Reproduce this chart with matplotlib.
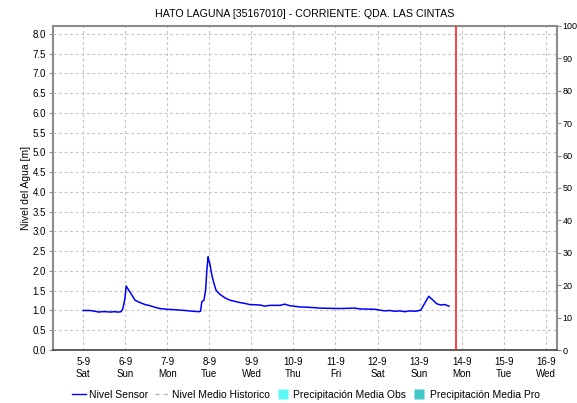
import matplotlib
matplotlib.use("Agg")
import matplotlib.pyplot as plt
from matplotlib.lines import Line2D

plt.rcParams['font.family'] = ['Liberation Sans', 'DejaVu Sans']

# Sensor readings: time in days since 5-9 00:00, level in metres
sensor_days = [0.00, 0.16, 0.28, 0.37, 0.44, 0.54, 0.64, 0.73, 0.83, 0.90,
               0.94, 0.99, 1.02, 1.06, 1.11, 1.18, 1.23, 1.35, 1.47, 1.59,
               1.71, 1.82, 2.01, 2.18, 2.42, 2.61, 2.75, 2.79, 2.82, 2.87,
               2.91, 2.94, 2.97, 2.99, 3.01, 3.06, 3.11, 3.16, 3.25, 3.37,
               3.49, 3.61, 3.73, 3.84, 3.96, 4.20, 4.32, 4.44, 4.68, 4.79,
               4.92, 5.15, 5.39, 5.63, 6.10, 6.46, 6.58, 6.94, 7.17, 7.29,
               7.41, 7.53, 7.65, 7.77, 7.91, 8.03, 8.10, 8.22, 8.34, 8.41,
               8.50, 8.60, 8.70]
sensor_level = [1.00, 1.00, 0.98, 0.96, 0.97, 0.97, 0.96, 0.97, 0.96, 0.97,
                1.04, 1.30, 1.62, 1.55, 1.47, 1.35, 1.26, 1.20, 1.15, 1.12,
                1.08, 1.05, 1.03, 1.02, 1.00, 0.98, 0.97, 0.98, 1.22, 1.26,
                1.51, 2.02, 2.36, 2.25, 2.19, 1.89, 1.68, 1.51, 1.41, 1.32,
                1.26, 1.23, 1.20, 1.18, 1.15, 1.14, 1.11, 1.13, 1.13, 1.16,
                1.12, 1.09, 1.08, 1.06, 1.05, 1.06, 1.04, 1.03, 0.99, 1.00,
                0.98, 0.99, 0.97, 0.99, 0.98, 1.01, 1.14, 1.36, 1.24, 1.17,
                1.14, 1.15, 1.11]

# Current time marker (days since 5-9 00:00)
now_day = 8.87

day_labels = ["5-9\nSat", "6-9\nSun", "7-9\nMon", "8-9\nTue", "9-9\nWed",
              "10-9\nThu", "11-9\nFri", "12-9\nSat", "13-9\nSun", "14-9\nMon",
              "15-9\nTue", "16-9\nWed"]
level_ticks = [0.0, 0.5, 1.0, 1.5, 2.0, 2.5, 3.0, 3.5, 4.0, 4.5, 5.0, 5.5,
               6.0, 6.5, 7.0, 7.5, 8.0]
precip_ticks = [0, 10, 20, 30, 40, 50, 60, 70, 80, 90, 100]

title = "HATO LAGUNA [35167010] - CORRIENTE: QDA. LAS CINTAS"

fig = plt.figure(figsize=(5.77, 4.03), dpi=100)
ax = fig.add_axes([0.0919, 0.1315, 0.8734, 0.804])

spine_col = "#8c8c8c"
grid_col = "#c4c4c4"

ax.plot(sensor_days, sensor_level, color="#0000ff", lw=1.1, zorder=3)
ax.axvline(now_day, color="#ff2020", lw=1.2, zorder=4)

ax.set_xlim(-0.72, 11.27)
ax.set_ylim(0, 8.2)
ax.set_xticks(range(len(day_labels)))
ax.set_xticklabels(day_labels, fontsize=7, linespacing=1.25)
ax.set_yticks(level_ticks)
ax.set_yticklabels([f"{v:.1f}" for v in level_ticks], fontsize=7)
ax.tick_params(axis="x", length=0, pad=5)
ax.tick_params(axis="y", length=3, color=spine_col, pad=2)
ax.grid(True, color=grid_col, ls=(0, (2.5, 2.5)), lw=0.8)
ax.set_axisbelow(True)
ax.set_ylabel("Nivel del Agua [m]", fontsize=7.5, labelpad=1)

for side in ("left", "top", "right"):
    ax.spines[side].set_color(spine_col)
    ax.spines[side].set_linewidth(1.5)
ax.spines["bottom"].set_color("#404040")
ax.spines["bottom"].set_linestyle((0, (1, 1)))
ax.spines["bottom"].set_linewidth(1.2)

ax2 = ax.twinx()
ax2.set_ylim(0, 100)
ax2.set_yticks(precip_ticks)
ax2.set_yticklabels([str(v) for v in precip_ticks], fontsize=6.5)
ax2.tick_params(axis="y", length=3, color=spine_col, pad=1)
for side in ("left", "top", "right", "bottom"):
    ax2.spines[side].set_visible(False)

fig.text(0.528, 0.965, title, ha="center", va="center", fontsize=7.7)

handles = [
    Line2D([0], [0], color="#0000ff", lw=1.0),
    Line2D([0], [0], color="#bbbbbb", lw=1.0, ls=(0, (3, 3))),
    Line2D([0], [0], ls="none", marker="s", markersize=7.5,
           markerfacecolor="#5cf8f8", markeredgecolor="none"),
    Line2D([0], [0], ls="none", marker="s", markersize=7.5,
           markerfacecolor="#40c8c4", markeredgecolor="none"),
]
labels = ["Nivel Sensor", "Nivel Medio Historico",
          "Precipitación Media Obs", "Precipitación Media Pro"]
fig.legend(handles, labels, loc="center", bbox_to_anchor=(0.530, 0.02),
           ncol=4, frameon=False, fontsize=7.5, handlelength=1.35,
           handletextpad=0.3, columnspacing=0.6)

fig.savefig("out.png", dpi=100)
